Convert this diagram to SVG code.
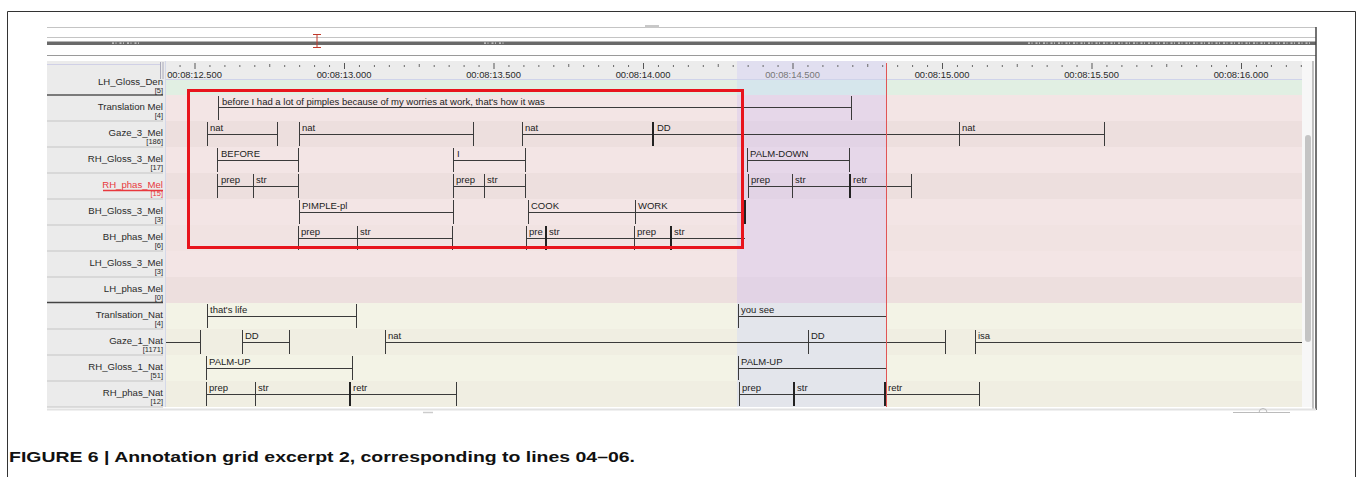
<svg xmlns="http://www.w3.org/2000/svg" width="1358" height="477" viewBox="0 0 1358 477">
<style>
.lbl{font-family:"Liberation Sans",Arial,sans-serif;font-size:9.6px;fill:#2a2a2a;text-anchor:end}
.cnt{font-family:"Liberation Sans",Arial,sans-serif;font-size:7.5px;fill:#2a2a2a;text-anchor:end}
.at{font-family:"Liberation Sans",Arial,sans-serif;font-size:9.5px;fill:#222}
.rt{font-family:"Liberation Sans",Arial,sans-serif;font-size:9.4px;fill:#2a2a2a;text-anchor:middle}
.an{fill:none;stroke:#3a3a3a;stroke-width:1}
.th{fill:none;stroke:#222;stroke-width:2}
.sep{stroke:#d2d2d2;stroke-width:1.5}
</style>
<defs>
<pattern id="ticks" patternUnits="userSpaceOnUse" x="45" y="0" width="149.5" height="477">
<rect x="0" y="63" width="1" height="6" fill="#555"/>
<rect x="14.95" y="65" width="1" height="2" fill="#666"/>
<rect x="29.9" y="65" width="1" height="2" fill="#666"/>
<rect x="44.85" y="65" width="1" height="2" fill="#666"/>
<rect x="59.8" y="65" width="1" height="2" fill="#666"/>
<rect x="74.75" y="64" width="1" height="3" fill="#666"/>
<rect x="89.7" y="65" width="1" height="2" fill="#666"/>
<rect x="104.65" y="65" width="1" height="2" fill="#666"/>
<rect x="119.6" y="65" width="1" height="2" fill="#666"/>
<rect x="134.55" y="65" width="1" height="2" fill="#666"/>
</pattern>
<clipPath id="area"><rect x="166" y="60" width="1136" height="350"/></clipPath>
</defs>
<rect width="1358" height="477" fill="#fff"/>
<!-- frame -->
<path d="M7.5 477 V11.5 H1355.5 V477" fill="none" stroke="#333" stroke-width="1"/>

<!-- top toolbar strips -->
<g id="overview">
<line x1="47" y1="27.5" x2="1316" y2="27.5" stroke="#c4c4c4"/>
<rect x="645" y="25" width="14" height="3" fill="#c8c8c8"/>
<line x1="47" y1="37.5" x2="1316" y2="37.5" stroke="#c4c4c4"/>
<rect x="47" y="41.5" width="1269" height="3.5" fill="#6a6a6a"/>
<path d="M112 43.2 H140 M484 43.2 H506 M1028 43.2 H1310" stroke="#d8d8d8" stroke-width="1.2" stroke-dasharray="2 1.5 1 3"/>
<line x1="47" y1="55.5" x2="1316" y2="55.5" stroke="#9a9a9a"/>
<path d="M313 34.5 H321 M317 34.5 V47.5 M313 47.5 H321" stroke="#c0392b" stroke-width="1" fill="none"/>
<line x1="1316" y1="27" x2="1316" y2="410" stroke="#444" stroke-width="1.5"/>
</g>

<!-- ruler -->
<g id="ruler">
<rect x="166" y="61" width="1136" height="19" fill="#ececec"/>
<rect x="737" y="61" width="149" height="19" fill="#e1dff0"/>
<rect x="166" y="61" width="1136" height="9" fill="url(#ticks)"/>
<g clip-path="url(#area)">
<text class="rt" x="194.5" y="78">00:08:12.500</text>
<text class="rt" x="344" y="78">00:08:13.000</text>
<text class="rt" x="493.5" y="78">00:08:13.500</text>
<text class="rt" x="643" y="78">00:08:14.000</text>
<text class="rt" x="792.5" y="78" style="fill:#777">00:08:14.500</text>
<text class="rt" x="942" y="78">00:08:15.000</text>
<text class="rt" x="1091.5" y="78">00:08:15.500</text>
<text class="rt" x="1241" y="78">00:08:16.000</text>
</g>
<line x1="166" y1="79.5" x2="1302" y2="79.5" stroke="#cfd3ea"/>
</g>

<!-- row backgrounds -->
<g id="rows">
<rect x="166" y="80" width="1136" height="15" fill="#e1efe3"/>
<rect x="166" y="95" width="1136" height="26" fill="#f3e5e5"/>
<rect x="166" y="121" width="1136" height="26" fill="#eddfde"/>
<rect x="166" y="147" width="1136" height="26" fill="#f3e5e5"/>
<rect x="166" y="173" width="1136" height="26" fill="#eddfde"/>
<rect x="166" y="199" width="1136" height="26" fill="#f3e5e5"/>
<rect x="166" y="225" width="1136" height="26" fill="#f1e3e2"/>
<rect x="166" y="251" width="1136" height="26" fill="#f3e5e5"/>
<rect x="166" y="277" width="1136" height="26" fill="#eddfde"/>
<rect x="166" y="303" width="1136" height="26" fill="#f3f3e6"/>
<rect x="166" y="329" width="1136" height="26" fill="#f0eee2"/>
<rect x="166" y="355" width="1136" height="26" fill="#f3f3e6"/>
<rect x="166" y="381" width="1136" height="26" fill="#f0eee2"/>
<!-- selection -->
<rect x="737" y="80" width="149" height="15" fill="#d6e6ec"/>
<rect x="737" y="95" width="149" height="208" fill="#e6d7e9"/>
<rect x="737" y="121" width="149" height="26" fill="#e2d3e5"/>
<rect x="737" y="173" width="149" height="26" fill="#e2d3e5"/>
<rect x="737" y="277" width="149" height="26" fill="#e2d3e5"/>
<rect x="737" y="303" width="149" height="104" fill="#e3e5eb"/>
</g>

<!-- label column -->
<g id="labels">
<rect x="47" y="61" width="118" height="346" fill="#ebebeb"/>
<line x1="47" y1="64.5" x2="160" y2="64.5" stroke="#d0d0e6"/>
<path d="M160.5 62 V79 M163 62 V79" stroke="#aab" stroke-width="1"/>
<line x1="165.5" y1="61" x2="165.5" y2="407" stroke="#d4d8e8"/>
<line x1="47" y1="95" x2="163" y2="95" stroke="#555" stroke-width="1.5"/>
<line x1="47" y1="121" x2="163" y2="121" class="sep"/>
<line x1="47" y1="147" x2="163" y2="147" class="sep"/>
<line x1="47" y1="173" x2="163" y2="173" class="sep"/>
<line x1="47" y1="199" x2="163" y2="199" class="sep"/>
<line x1="47" y1="225" x2="163" y2="225" class="sep"/>
<line x1="47" y1="251" x2="163" y2="251" class="sep"/>
<line x1="47" y1="277" x2="163" y2="277" class="sep"/>
<line x1="47" y1="302.5" x2="163" y2="302.5" stroke="#444" stroke-width="1.5"/>
<line x1="47" y1="329" x2="163" y2="329" class="sep"/>
<line x1="47" y1="355" x2="163" y2="355" class="sep"/>
<line x1="47" y1="381" x2="163" y2="381" class="sep"/>
<line x1="47" y1="407" x2="163" y2="407" class="sep"/>
<g id="lab-lhglossden"><text class="lbl" x="163" y="85">LH_Gloss_Den</text><text class="cnt" x="163" y="93">[5]</text></g>
<g id="lab-transmel"><text class="lbl" x="163" y="110">Translation Mel</text><text class="cnt" x="163" y="118">[4]</text></g>
<g id="lab-gaze3"><text class="lbl" x="163" y="136">Gaze_3_Mel</text><text class="cnt" x="163" y="144">[186]</text></g>
<g id="lab-rhgloss3"><text class="lbl" x="163" y="162">RH_Gloss_3_Mel</text><text class="cnt" x="163" y="170">[17]</text></g>
<g id="lab-rhphasmel"><text class="lbl" x="163" y="188" style="fill:#e8383d">RH_phas_Mel</text><line x1="103" y1="190.5" x2="163" y2="190.5" stroke="#e8383d" stroke-width="1.5"/><text class="cnt" x="163" y="196" style="fill:#e8383d">[15]</text></g>
<g id="lab-bhgloss3"><text class="lbl" x="163" y="214">BH_Gloss_3_Mel</text><text class="cnt" x="163" y="222">[3]</text></g>
<g id="lab-bhphas"><text class="lbl" x="163" y="240">BH_phas_Mel</text><text class="cnt" x="163" y="248">[6]</text></g>
<g id="lab-lhgloss3"><text class="lbl" x="163" y="266">LH_Gloss_3_Mel</text><text class="cnt" x="163" y="274">[3]</text></g>
<g id="lab-lhphas"><text class="lbl" x="163" y="292">LH_phas_Mel</text><text class="cnt" x="163" y="300">[0]</text></g>
<g id="lab-transnat"><text class="lbl" x="163" y="318">Tranlsation_Nat</text><text class="cnt" x="163" y="326">[4]</text></g>
<g id="lab-gaze1"><text class="lbl" x="163" y="344">Gaze_1_Nat</text><text class="cnt" x="163" y="352">[1171]</text></g>
<g id="lab-rhgloss1"><text class="lbl" x="163" y="370">RH_Gloss_1_Nat</text><text class="cnt" x="163" y="378">[51]</text></g>
<g id="lab-rhphasnat"><text class="lbl" x="163" y="396">RH_phas_Nat</text><text class="cnt" x="163" y="404">[12]</text></g>
</g>

<!-- annotations -->
<g id="tier-translation-mel">
<path class="an" d="M218.5 96 V120 M218.5 107.5 H851 M851.5 96 V120"/>
<text class="at" x="222" y="105">before I had a lot of pimples because of my worries at work, that's how it was</text>
</g>
<g id="tier-gaze3">
<path class="an" d="M207.5 122 V146 M207.5 134.5 H277 M277.5 122 V146"/>
<path class="an" d="M299.5 122 V146 M299.5 134.5 H473 M473.5 122 V146"/>
<path class="an" d="M522.5 122 V146 M522.5 134.5 H1104 M959.5 122 V146 M1104.5 122 V146"/>
<path class="th" d="M653 122 V146"/>
<text class="at" x="210" y="131">nat</text>
<text class="at" x="302" y="131">nat</text>
<text class="at" x="525" y="131">nat</text>
<text class="at" x="657" y="131">DD</text>
<text class="at" x="962" y="131">nat</text>
</g>
<g id="tier-rhgloss3">
<path class="an" d="M217.5 148 V172 M217.5 160.5 H298 M298.5 148 V172"/>
<path class="an" d="M453.5 148 V172 M453.5 160.5 H525 M525.5 148 V172"/>
<path class="an" d="M747.5 148 V172 M747.5 160.5 H849 M849.5 148 V172"/>
<text class="at" x="221" y="157">BEFORE</text>
<text class="at" x="457" y="157">I</text>
<text class="at" x="750" y="157">PALM-DOWN</text>
</g>
<g id="tier-rhphasmel">
<path class="an" d="M217.5 174 V198 M217.5 186.5 H298 M253.5 174 V198 M298.5 174 V198"/>
<path class="an" d="M453.5 174 V198 M453.5 186.5 H525 M484.5 174 V198 M525.5 174 V198"/>
<path class="an" d="M748.5 174 V198 M748.5 186.5 H912 M792.5 174 V198 M911.5 174 V198"/>
<path class="th" d="M850 174 V198"/>
<text class="at" x="221" y="183">prep</text>
<text class="at" x="256" y="183">str</text>
<text class="at" x="456" y="183">prep</text>
<text class="at" x="487" y="183">str</text>
<text class="at" x="751" y="183">prep</text>
<text class="at" x="795" y="183">str</text>
<text class="at" x="853" y="183">retr</text>
</g>
<g id="tier-bhgloss3">
<path class="an" d="M299.5 200 V224 M299.5 212.5 H454 M453.5 200 V224"/>
<path class="an" d="M528.5 200 V224 M528.5 212.5 H745 M635.5 200 V224"/>
<path class="th" d="M745 200 V224"/>
<text class="at" x="302" y="209">PIMPLE-pl</text>
<text class="at" x="531" y="209">COOK</text>
<text class="at" x="638" y="209">WORK</text>
</g>
<g id="tier-bhphas">
<path class="an" d="M298.5 226 V250 M298.5 238.5 H453 M357.5 226 V250 M452.5 226 V250"/>
<path class="an" d="M526.5 226 V250 M526.5 238.5 H745 M634.5 226 V250"/>
<path class="th" d="M546 226 V250 M671 226 V250"/>
<text class="at" x="301" y="235">prep</text>
<text class="at" x="360" y="235">str</text>
<text class="at" x="529" y="235">pre</text>
<text class="at" x="549" y="235">str</text>
<text class="at" x="637" y="235">prep</text>
<text class="at" x="674" y="235">str</text>
</g>
<g id="tier-transnat">
<path class="an" d="M207.5 304 V328 M207.5 316.5 H356 M356.5 304 V328"/>
<path class="an" d="M738.5 304 V328 M738.5 316.5 H886"/>
<text class="at" x="210" y="313">that's life</text>
<text class="at" x="741" y="313">you see</text>
</g>
<g id="tier-gaze1">
<path class="an" d="M166 342.5 H200 M200.5 330 V354"/>
<path class="an" d="M242.5 330 V354 M242.5 342.5 H289 M289.5 330 V354"/>
<path class="an" d="M385.5 330 V354 M385.5 342.5 H945 M808.5 330 V354 M945.5 330 V354"/>
<path class="an" d="M975.5 330 V354 M975.5 342.5 H1302"/>
<text class="at" x="245" y="339">DD</text>
<text class="at" x="388" y="339">nat</text>
<text class="at" x="811" y="339">DD</text>
<text class="at" x="978" y="339">isa</text>
</g>
<g id="tier-rhgloss1">
<path class="an" d="M206.5 356 V380 M206.5 368.5 H352 M352.5 356 V380"/>
<path class="an" d="M738.5 356 V380 M738.5 368.5 H886"/>
<text class="at" x="209" y="365">PALM-UP</text>
<text class="at" x="741" y="365">PALM-UP</text>
</g>
<g id="tier-rhphasnat">
<path class="an" d="M206.5 382 V406 M206.5 394.5 H457 M255.5 382 V406 M456.5 382 V406"/>
<path class="th" d="M350 382 V406"/>
<path class="an" d="M739.5 382 V406 M739.5 394.5 H979 M979.5 382 V406"/>
<path class="th" d="M794 382 V406 M885 382 V406"/>
<text class="at" x="209" y="391">prep</text>
<text class="at" x="258" y="391">str</text>
<text class="at" x="353" y="391">retr</text>
<text class="at" x="742" y="391">prep</text>
<text class="at" x="797" y="391">str</text>
<text class="at" x="888" y="391">retr</text>
</g>

<!-- crosshair -->
<g id="cursor"><line x1="886.5" y1="63" x2="886.5" y2="407" stroke="#e05555" stroke-width="1"/></g>

<!-- scrollbar & bottom -->
<g id="scrollbar">
<rect x="1302" y="61" width="11" height="346" fill="#f7f7f7"/>
<rect x="1305" y="135" width="6" height="207" rx="3" fill="#c4c4c4"/>
<line x1="1313" y1="61" x2="1313" y2="410" stroke="#888" stroke-width="1"/>
<line x1="47" y1="409.5" x2="1316" y2="409.5" stroke="#e2e2e2" stroke-width="2"/>
<line x1="423" y1="412.5" x2="433" y2="412.5" stroke="#ccc" stroke-width="1.5"/>
<path d="M1233 412.5 H1290 M1259 412.5 A4 4 0 0 1 1267 412.5" fill="none" stroke="#bbb" stroke-width="1"/>
</g>

<!-- highlight box -->
<g id="highlight"><rect x="188.5" y="90.5" width="554" height="157" fill="none" stroke="#e8141c" stroke-width="3"/></g>

<g id="caption"><text x="9" y="462" font-family="'Liberation Sans',Arial,sans-serif" font-weight="bold" font-size="15" fill="#111" textLength="626" lengthAdjust="spacingAndGlyphs">FIGURE 6 | Annotation grid excerpt 2, corresponding to lines 04–06.</text></g>
</svg>
